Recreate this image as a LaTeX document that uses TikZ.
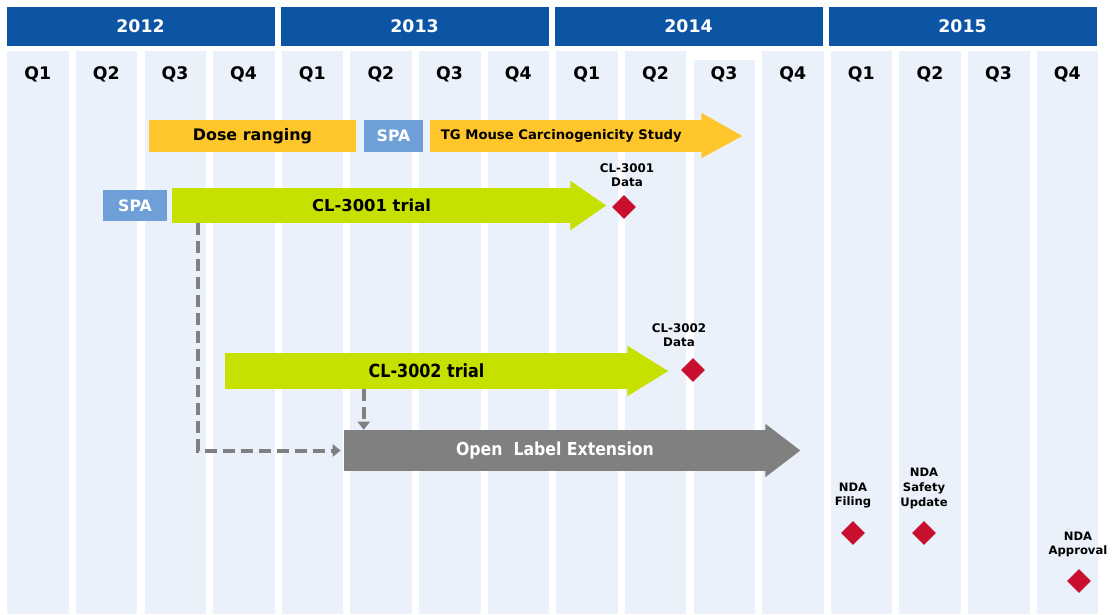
\documentclass[tikz,border=0pt]{standalone}
\usepackage{fontspec}
\setmainfont{DejaVu Sans}
\newfontfamily\cond[FakeStretch=0.88]{DejaVu Sans}
\usetikzlibrary{shapes.geometric,calc,arrows.meta}
\definecolor{hdrblue}{RGB}{12,84,164}
\definecolor{colfill}{RGB}{234,241,250}
\definecolor{yellowc}{RGB}{255,198,44}
\definecolor{spablue}{RGB}{110,160,215}
\definecolor{limec}{RGB}{198,224,0}
\definecolor{grayc}{RGB}{128,128,128}
\definecolor{redc}{RGB}{200,16,46}
\tikzset{
  colbox/.style={fill=colfill,draw=none,inner sep=0pt,anchor=north west,minimum width=46.125pt},
  yearbox/.style={fill=hdrblue,text=white,font=\bfseries\fontsize{13}{15}\selectfont,inner sep=0pt,minimum width=201pt,minimum height=29.5pt},
  qlab/.style={font=\bfseries\fontsize{13}{15}\selectfont,inner sep=0pt},
  bar/.style={inner sep=0pt,draw=none},
  milestone/.style={shape=diamond,fill=redc,draw=none,inner sep=0pt,minimum width=18pt,minimum height=18pt},
  mlabel/.style={font=\bfseries\fontsize{8.9}{10.6}\selectfont,align=center,inner sep=0pt},
  dashconn/.style={draw=grayc,line width=3pt,dash pattern=on 9pt off 4.5pt,-{Triangle[length=6pt,width=9pt]}}
}
\begin{document}
\begin{tikzpicture}[x=0.75pt,y=-0.75pt]
\useasboundingbox (0,0) rectangle (1113,614);
\fill[white] (0,0) rectangle (1113,614);
% quarter columns
\foreach \i in {0,...,15}{
  \pgfmathsetmacro\xl{7+\i*68.63}
  \pgfmathsetmacro\yt{ifthenelse(\i==10,60,51)}
  \pgfmathsetmacro\hh{(614-\yt)*0.75}
  \pgfmathtruncatemacro\q{mod(\i,4)+1}
  \node[colbox,minimum height=\hh pt] (col\i) at (\xl,\yt) {};
  \node[qlab] (q\i) at ({\xl+30.75},74) {Q\q};
}
% year headers
\foreach \yr [count=\k from 0] in {2012,2013,2014,2015}{
  \node[yearbox] (y\yr) at ({6.5+\k*274+134},26.3) {\yr};
}
% row 1
\node[bar,fill=yellowc,minimum width=155.25pt,minimum height=24pt,font=\bfseries\fontsize{11.9}{13}\selectfont] (dose) at (252.5,136) {\raisebox{-1.5pt}{Dose ranging}};
\node[bar,fill=spablue,text=white,minimum width=44.25pt,minimum height=24pt,font=\bfseries\fontsize{11.8}{13}\selectfont] (spa1) at (393.5,136) {\raisebox{-1.2pt}{SPA}};
\node[bar,fill=yellowc,minimum width=204pt,minimum height=24pt,font=\bfseries\fontsize{9.9}{12}\selectfont] (tg) at (566,136) {\hspace*{-7pt}\raisebox{-0.8pt}{TG Mouse Carcinogenicity Study}};
\fill[yellowc] ($(tg.north east)+(-1,-7)$) -- ($(tg.east)+(40,0)$) -- ($(tg.south east)+(-1,6)$) -- cycle;
% row 2
\node[bar,fill=spablue,text=white,minimum width=48pt,minimum height=23.25pt,font=\bfseries\fontsize{11.8}{13}\selectfont] (spa2) at (135,205.5) {SPA};
\node[bar,fill=limec,minimum width=299.25pt,minimum height=26.25pt,font=\bfseries\fontsize{12.3}{14}\selectfont] (cl1) at (371.5,205.5) {\raisebox{-2pt}{CL-3001 trial}};
\fill[limec] ($(cl1.north east)+(-1,-7)$) -- ($(cl1.east)+(35,0)$) -- ($(cl1.south east)+(-1,7)$) -- cycle;
\node[mlabel] (d1lab) at (627,175) {CL-3001\\Data};
\node[milestone] (d1) at (624,207) {};
% row 3
\node[bar,fill=limec,minimum width=302.25pt,minimum height=27pt,font=\cond\bfseries\fontsize{13.6}{15}\selectfont] (cl2) at (426.5,371) {\raisebox{-1.5pt}{CL-3002 trial}};
\fill[limec] ($(cl2.north east)+(-1,-7)$) -- ($(cl2.east)+(40,0)$) -- ($(cl2.south east)+(-1,7)$) -- cycle;
\node[mlabel] (d2lab) at (679,335.5) {CL-3002\\Data};
\node[milestone] (d2) at (693,370) {};
% open label extension
\node[bar,fill=grayc,text=white,minimum width=316.5pt,minimum height=30.75pt,font=\cond\bfseries\fontsize{13.4}{15}\selectfont] (ole) at (555,450.5) {Open\ \ Label Extension};
\fill[grayc] ($(ole.north east)+(-1,-6)$) -- ($(ole.east)+(34,0)$) -- ($(ole.south east)+(-1,6)$) -- cycle;
% dashed connectors
\draw[dashconn] ($(cl1.south west)+(26,0)$) |- ($(ole.west)+(-3,0)$);
\draw[dashconn] ($(cl2.south west)+(139,0)$) -- ($(ole.north west)+(20,0)$);
% NDA milestones
\node[mlabel,font=\bfseries\fontsize{8.7}{10.9}\selectfont] (nfl) at (853,495.5) {NDA\\Filing};
\node[milestone] (nf) at (853,533) {};
\node[mlabel,font=\bfseries\fontsize{8.7}{10.9}\selectfont] (nsl) at (924,488.5) {NDA\\Safety\\Update};
\node[milestone] (ns) at (924,533) {};
\node[mlabel,font=\bfseries\fontsize{8.7}{10.9}\selectfont] (nal) at (1078,544.5) {NDA\\Approval};
\node[milestone] (na) at (1079,581) {};
\end{tikzpicture}
\end{document}
